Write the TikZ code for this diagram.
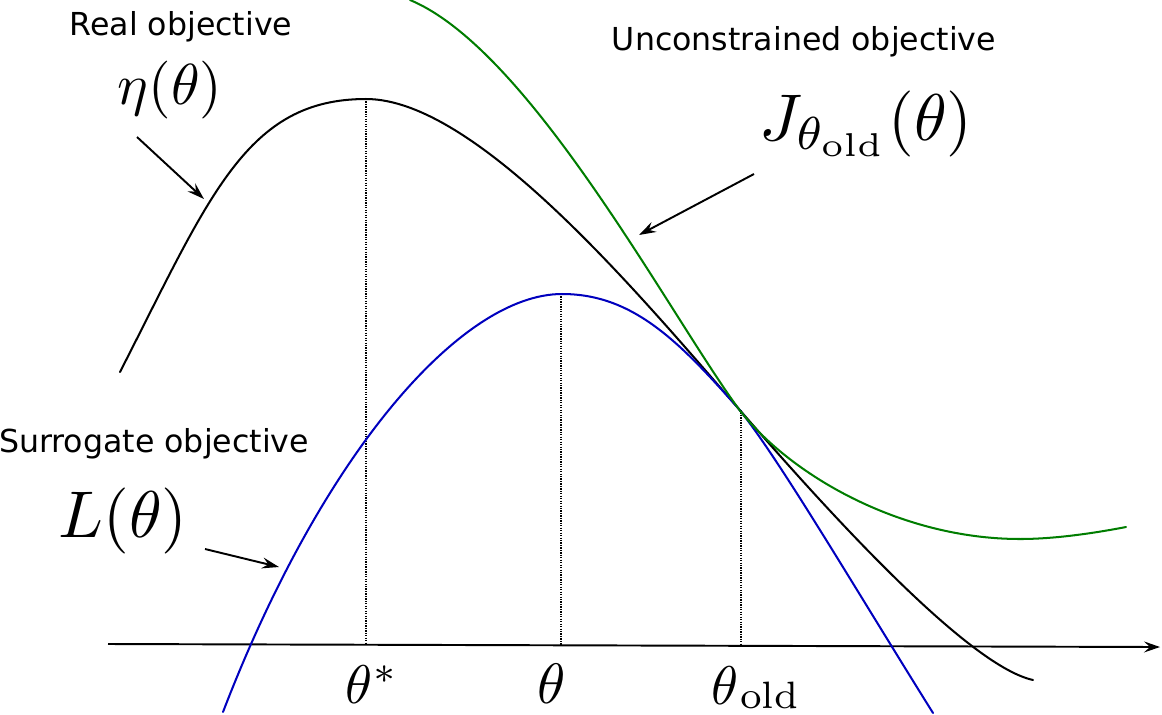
\documentclass[tikz,border=0pt]{standalone}
\usepackage{fontspec}
\newfontfamily\labfont{DejaVu Sans}
\usetikzlibrary{arrows.meta}
\definecolor{curvegreen}{RGB}{0,125,0}
\definecolor{curveblue}{RGB}{0,0,190}
\tikzset{
  curve/.style={line width=1.15pt, line cap=round},
  guide/.style={line width=0.6pt, dash pattern=on 0.7pt off 0.7pt},
  pointer/.style={line width=1.1pt, -{Stealth[length=0.34cm,width=0.22cm,inset=0.12cm]}},
  axisline/.style={line width=1.1pt, -{Stealth[length=0.32cm,width=0.22cm,inset=0.12cm]}},
  lab/.style={anchor=base, inner sep=0pt, font=\labfont\fontsize{18}{21}\selectfont},
  mathlab/.style={anchor=base, inner sep=0pt},
}
\begin{document}
\begin{tikzpicture}[x=0.02cm, y=-0.02cm]
\useasboundingbox (0,0) rectangle (1162,714);
% axis
\coordinate (ax0) at (108,644);
\coordinate (ax1) at (1160,647);
\draw[axisline] (ax0) -- (ax1);
% dotted guides
\coordinate (p1) at (366,99);  \coordinate (q1) at (366,644);
\coordinate (p2) at (561,294); \coordinate (q2) at (561,645);
\coordinate (p3) at (741,410); \coordinate (q3) at (741,646);
\draw[guide] (p1) -- (q1);
\draw[guide] (p2) -- (q2);
\draw[guide] (p3) -- (q3);
% key points of the curves
\coordinate (etaS) at (120,372);
\coordinate (etaP) at (366,99);
\coordinate (tang) at (738,408);
\coordinate (etaE) at (1033,680);
\coordinate (LS) at (223,712);
\coordinate (LP) at (562,294);
\coordinate (LE) at (933,713);
\coordinate (JS) at (410,0);
\coordinate (JM) at (1020,539);
\coordinate (JE) at (1126,527);
% real objective (black)
\draw[curve, black] (etaS) .. controls (210,196) and (246,99) .. (etaP)
  .. controls (476,99) and (638,293) .. (tang)
  .. controls (818,500) and (965,665) .. (etaE);
% surrogate objective (blue)
\draw[curve, curveblue] (LS) .. controls (323,452) and (462,294) .. (LP)
  .. controls (632,294) and (678,340) .. (tang)
  .. controls (778,457) and (853,585) .. (LE);
% unconstrained objective (green)
\draw[curve, curvegreen] (JS) .. controls (530,50) and (668,312) .. (tang)
  .. controls (788,474) and (900,539) .. (JM)
  .. controls (1055,539) and (1095,533) .. (JE);
% labels
\node[lab] (realtxt) at (181,35) {Real objective};
\node[mathlab, scale=3.29] (eta) at (170,104) {$\eta(\theta)$};
\node[lab] (unctxt) at (804,50) {Unconstrained objective};
\node[mathlab, scale=3.76] (J) at (866,140) {$J_{\theta_{\mathrm{old}}}(\theta)$};
\node[lab] (surtxt) at (154,452) {Surrogate objective};
\node[mathlab, scale=3.76] (L) at (123,537) {$L(\theta)$};
\node[mathlab, scale=3.1] (tstar) at (372,703) {$\theta^*$};
\node[mathlab, scale=3.24] (tnew) at (552,703) {$\theta$};
\node[mathlab, scale=3.1] (told) at (755,704) {$\theta$\kern0.02em\raisebox{-0.75pt}{$\scriptstyle\mathrm{old}$}};
% pointer arrows
\coordinate (a1s) at (137,137); \coordinate (a1e) at (204,199);
\coordinate (a2s) at (754,174); \coordinate (a2e) at (639,235);
\coordinate (a3s) at (205,549); \coordinate (a3e) at (279,567);
\draw[pointer] (a1s) -- (a1e);
\draw[pointer] (a2s) -- (a2e);
\draw[pointer] (a3s) -- (a3e);
\end{tikzpicture}
\end{document}
